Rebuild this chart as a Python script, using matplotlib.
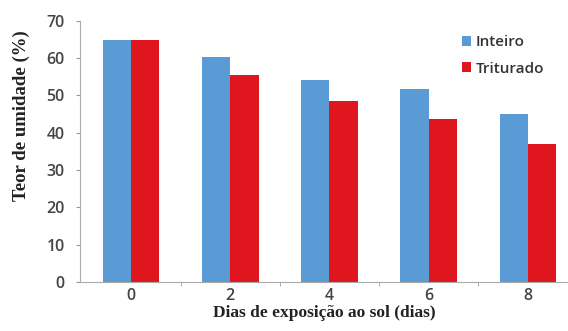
import matplotlib
matplotlib.use("Agg")
import matplotlib.pyplot as plt
import numpy as np
from matplotlib.ticker import FixedLocator

categories = ["0", "2", "4", "6", "8"]
inteiro = [65.0, 60.2, 54.2, 51.7, 45.0]
triturado = [65.0, 55.6, 48.5, 43.7, 36.9]
yticks = [0, 10, 20, 30, 40, 50, 60, 70]

blue = "#5B9BD5"
red = "#E0161E"

fig = plt.figure(figsize=(5.68, 3.31), dpi=100)
ax = fig.add_axes([0.141, 0.148, 0.859, 0.789])

x = np.arange(len(categories))
w = 0.285
ax.bar(x - w / 2, inteiro, w, color=blue, label="Inteiro")
ax.bar(x + w / 2, triturado, w, color=red, label="Triturado")

ax.set_xlim(-0.515, 4.405)
ax.set_ylim(0, 70)
ax.set_yticks(yticks)
ax.set_xticks(x)
ax.set_xticklabels(categories)
ax.xaxis.set_minor_locator(FixedLocator([0.5, 1.5, 2.5, 3.5]))
ax.tick_params(axis="x", which="major", length=0, pad=4, labelsize=11.5, labelcolor="#444444")
ax.tick_params(axis="x", which="minor", length=3, color="#999999", direction="out")
ax.tick_params(axis="y", length=3, color="#999999", labelsize=11.5, labelcolor="#444444", pad=8)
for lab in ax.get_xticklabels() + ax.get_yticklabels():
    lab.set_family("Open Sans")
    lab.set_fontweight("semibold")

for s in ["top", "right"]:
    ax.spines[s].set_visible(False)
for s in ["left", "bottom"]:
    ax.spines[s].set_color("#aaaaaa")
    ax.spines[s].set_linewidth(0.8)

ax.set_xlabel("Dias de exposição ao sol (dias)", family="Liberation Serif",
              fontweight="bold", fontsize=12.5, color="#222222")
ax.xaxis.set_label_coords(0.5, -0.118)
ax.xaxis.label.set_va("center")
ax.set_ylabel("Teor de umidade (%)", family="Liberation Serif",
              fontweight="bold", fontsize=13.5, color="#222222")
ax.yaxis.set_label_coords(-0.12, 0.636)
ax.yaxis.label.set_va("center")

leg = ax.legend(loc="upper left", bbox_to_anchor=(0.755, 0.997), frameon=False,
                handlelength=0.6, handleheight=0.6, handletextpad=0.3,
                labelspacing=0.8, prop={"family": "Open Sans", "size": 11})
for t in leg.get_texts():
    t.set_color("#333333")
    t.set_fontweight("semibold")

fig.savefig("out.png", dpi=100)
